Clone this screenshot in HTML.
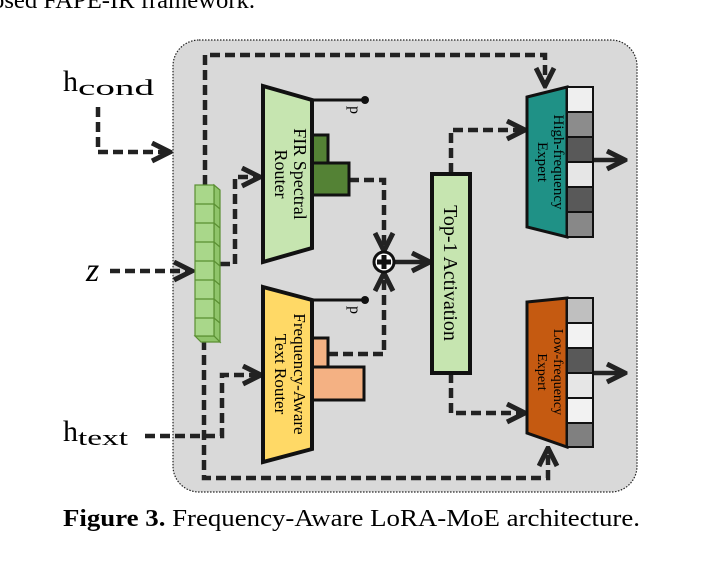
<!DOCTYPE html>
<html><head><style>
body{margin:0;background:#fff;width:709px;height:562px;overflow:hidden}
svg{display:block}
text{font-family:"Liberation Serif",serif}
</style></head><body>
<svg width="709" height="562" viewBox="0 0 709 562">
<defs>
<marker id="a" viewBox="0 0 10 10" refX="9" refY="5" markerWidth="5" markerHeight="5" orient="auto" markerUnits="strokeWidth">
<path d="M1,1 L9,5 L1,9" fill="none" stroke="#222" stroke-width="2.2"/>
</marker>
</defs>
<text x="-8" y="8" font-size="24" textLength="263" lengthAdjust="spacingAndGlyphs">osed FAPE-IR framework.</text>
<rect x="173" y="40" width="464" height="452" rx="26" fill="#d9d9d9" stroke="#222" stroke-width="1.2" stroke-dasharray="1.5,1.5"/>
<g fill="none" stroke="#222" stroke-width="4.5" stroke-dasharray="10,5">
<path d="M205,185 V55 H545 V86" marker-end="url(#a)"/>
<path d="M98,107 V152 H170" marker-end="url(#a)"/>
<path d="M110,271 H192" marker-end="url(#a)"/>
<path d="M220,264 H235 V177 H260" marker-end="url(#a)"/>
<path d="M145,436 H222 V375 H261" marker-end="url(#a)"/>
<path d="M204,340 V478 H548 V448" marker-end="url(#a)"/>
<path d="M349,180 H384 V251" marker-end="url(#a)"/>
<path d="M328,354 H384 V273" marker-end="url(#a)"/>
<path d="M451,173 V130 H525" marker-end="url(#a)"/>
<path d="M451,373 V413 H525" marker-end="url(#a)"/>
</g>
<g fill="none" stroke="#222" stroke-width="4.5">
<path d="M394,262 H430" marker-end="url(#a)"/>
<path d="M593,160 H625" marker-end="url(#a)"/>
<path d="M593,373 H625" marker-end="url(#a)"/>
</g>
<circle cx="384" cy="262" r="10" fill="#fff" stroke="#111" stroke-width="3"/>
<path d="M384,255 V269 M377,262 H391" stroke="#111" stroke-width="5"/>
<g stroke="#5a8f32" stroke-width="1.2">
<path d="M214,185 L220,190 V342 L214,336 Z" fill="#8fc46a"/>
<path d="M195,336 L201,342 H220 L214,336 Z" fill="#8fc46a"/>
<rect x="195" y="185" width="19" height="151" fill="#a9d78a"/>
<path d="M195,204 H214 M195,223 H214 M195,242 H214 M195,261 H214 M195,280 H214 M195,299 H214 M195,318 H214"/>
<path d="M214,204 L220,209 M214,223 L220,228 M214,242 L220,247 M214,261 L220,266 M214,280 L220,285 M214,299 L220,304 M214,318 L220,323"/>
</g>
<path d="M312,100 H365" stroke="#111" stroke-width="3"/><circle cx="365" cy="100" r="4" fill="#111"/>
<path d="M312,300 H365" stroke="#111" stroke-width="3"/><circle cx="365" cy="300" r="4" fill="#111"/>
<text transform="translate(350,106) rotate(90)" font-size="16">p</text>
<text transform="translate(350,306) rotate(90)" font-size="16">p</text>
<rect x="312" y="135" width="16" height="28" fill="#548235" stroke="#111" stroke-width="3"/>
<rect x="312" y="163" width="37" height="32" fill="#548235" stroke="#111" stroke-width="3"/>
<path d="M263,86 L312,100 V248 L263,262 Z" fill="#c6e5b0" stroke="#111" stroke-width="4"/>
<text transform="translate(294,174) rotate(90)" font-size="18" text-anchor="middle">FIR Spectral</text>
<text transform="translate(275,174) rotate(90)" font-size="18" text-anchor="middle">Router</text>
<rect x="312" y="338" width="16" height="29" fill="#f4b183" stroke="#111" stroke-width="3"/>
<rect x="312" y="367" width="52" height="33" fill="#f4b183" stroke="#111" stroke-width="3"/>
<path d="M263,287 L312,300 V449 L263,462 Z" fill="#ffd966" stroke="#111" stroke-width="4"/>
<text transform="translate(294,374) rotate(90)" font-size="17" text-anchor="middle">Frequency-Aware</text>
<text transform="translate(275,374) rotate(90)" font-size="17" text-anchor="middle">Text Router</text>
<rect x="432" y="174" width="38" height="199" fill="#c6e5b0" stroke="#111" stroke-width="4"/>
<text transform="translate(444,273) rotate(90)" font-size="20" text-anchor="middle">Top-1 Activation</text>
<path d="M527,97 L567,87 V237 L527,227 Z" fill="#1f9186" stroke="#111" stroke-width="3"/>
<text transform="translate(554,162) rotate(90)" font-size="15" text-anchor="middle">High-frequency</text>
<text transform="translate(538,162) rotate(90)" font-size="15" text-anchor="middle">Expert</text>
<g stroke="#111" stroke-width="2">
<rect x="567" y="87" width="26" height="25" fill="#efefef"/>
<rect x="567" y="112" width="26" height="25" fill="#8c8c8c"/>
<rect x="567" y="137" width="26" height="25" fill="#595959"/>
<rect x="567" y="162" width="26" height="25" fill="#e6e6e6"/>
<rect x="567" y="187" width="26" height="25" fill="#595959"/>
<rect x="567" y="212" width="26" height="25" fill="#888"/>
</g>
<path d="M527,302 L567,298 V447 L527,433 Z" fill="#c55a11" stroke="#111" stroke-width="3"/>
<text transform="translate(554,372) rotate(90)" font-size="14" text-anchor="middle">Low-frequency</text>
<text transform="translate(538,372) rotate(90)" font-size="14" text-anchor="middle">Expert</text>
<g stroke="#111" stroke-width="2">
<rect x="567" y="298" width="26" height="25" fill="#bfbfbf"/>
<rect x="567" y="323" width="26" height="25" fill="#f2f2f2"/>
<rect x="567" y="348" width="26" height="25" fill="#595959"/>
<rect x="567" y="373" width="26" height="25" fill="#e6e6e6"/>
<rect x="567" y="398" width="26" height="25" fill="#f2f2f2"/>
<rect x="567" y="423" width="26" height="24" fill="#808080"/>
</g>
<text x="63" y="91" font-size="30">h<tspan font-size="22" dy="4" textLength="76" lengthAdjust="spacingAndGlyphs">cond</tspan></text>
<text x="86" y="281" font-size="34" font-style="italic">z</text>
<text x="63" y="441" font-size="30">h<tspan font-size="22" dy="4" textLength="50" lengthAdjust="spacingAndGlyphs">text</tspan></text>
<text x="63" y="526" font-size="24" textLength="577" lengthAdjust="spacingAndGlyphs"><tspan font-weight="bold">Figure 3.</tspan> Frequency-Aware LoRA-MoE architecture.</text>
</svg>
</body></html>
